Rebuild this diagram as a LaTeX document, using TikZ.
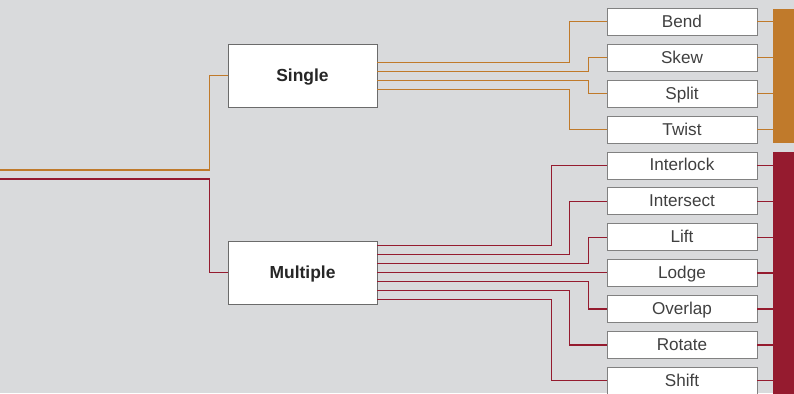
\documentclass[tikz,border=0pt]{standalone}
\usepackage{fontspec}
\setmainfont{Liberation Sans}
\definecolor{bg}{RGB}{217,218,220}
\definecolor{orng}{RGB}{192,122,43}
\definecolor{crim}{RGB}{149,27,47}
\definecolor{frame}{RGB}{107,107,107}
\begin{document}
\begin{tikzpicture}[x=1bp,y=-1bp,
  mainbox/.style={draw=frame, fill=white, line width=0.8bp, minimum width=149bp, minimum height=63bp, inner sep=0pt,
    font=\fontsize{17.5}{20}\selectfont\bfseries, text=black!85, text height=13bp, text depth=2bp},
  leaf/.style={draw=frame!85, fill=white, line width=0.8bp, minimum width=150bp, minimum height=27bp, inner sep=0pt,
    font=\fontsize{17.2}{20}\selectfont, text=black!75, text height=13bp, text depth=2bp},
  bar/.style={minimum width=21bp, inner sep=0pt, anchor=north west},
  oline/.style={draw=orng, line width=1.3bp},
  rline/.style={draw=crim, line width=1.3bp}]
\useasboundingbox[fill=bg] (0,0) rectangle (794,393);

\coordinate (inS) at (0,170);
\coordinate (inM) at (0,179);

\node[mainbox] (S) at (302.5,75.8) {Single};
\node[mainbox] (M) at (302.5,272.8) {Multiple};
\foreach \n [count=\i from 0] in {Bend,Skew,Split,Twist,Interlock,Intersect,Lift,Lodge,Overlap,Rotate,Shift}
  \node[leaf] (L\i) at (682,21.8+35.9*\i) {\n};

\node[bar, fill=orng, minimum height=134.4bp] (ob) at (773,8.3) {};
\node[bar, fill=crim, minimum height=245bp] (rb) at (773,152) {};

\foreach \i in {0,...,3} \draw[oline] (L\i.east) -- (L\i.east -| ob.west);
\foreach \i in {4,...,10} \draw[rline] (L\i.east) -- (L\i.east -| rb.west);

\draw[oline] (inS) -| ([xshift=-18bp]S.west) -- (S.west);
\draw[rline] (inM) -| ([xshift=-18bp]M.west) -- (M.west);

\draw[oline] ([yshift=13.5bp]S.east) -| ([xshift=-37bp]L0.west) -- (L0.west);
\draw[oline] ([yshift=4.5bp]S.east) -| ([xshift=-18bp]L1.west) -- (L1.west);
\draw[oline] ([yshift=-4.5bp]S.east) -| ([xshift=-18bp]L2.west) -- (L2.west);
\draw[oline] ([yshift=-13.5bp]S.east) -| ([xshift=-37bp]L3.west) -- (L3.west);

\draw[rline] ([yshift=27bp]M.east) -| ([xshift=-55bp]L4.west) -- (L4.west);
\draw[rline] ([yshift=18bp]M.east) -| ([xshift=-37bp]L5.west) -- (L5.west);
\draw[rline] ([yshift=9bp]M.east) -| ([xshift=-18bp]L6.west) -- (L6.west);
\draw[rline] (M.east) -- (M.east -| L7.west);
\draw[rline] ([yshift=-9bp]M.east) -| ([xshift=-18bp]L8.west) -- (L8.west);
\draw[rline] ([yshift=-18bp]M.east) -| ([xshift=-37bp]L9.west) -- (L9.west);
\draw[rline] ([yshift=-27bp]M.east) -| ([xshift=-55bp]L10.west) -- (L10.west);
\end{tikzpicture}
\end{document}
